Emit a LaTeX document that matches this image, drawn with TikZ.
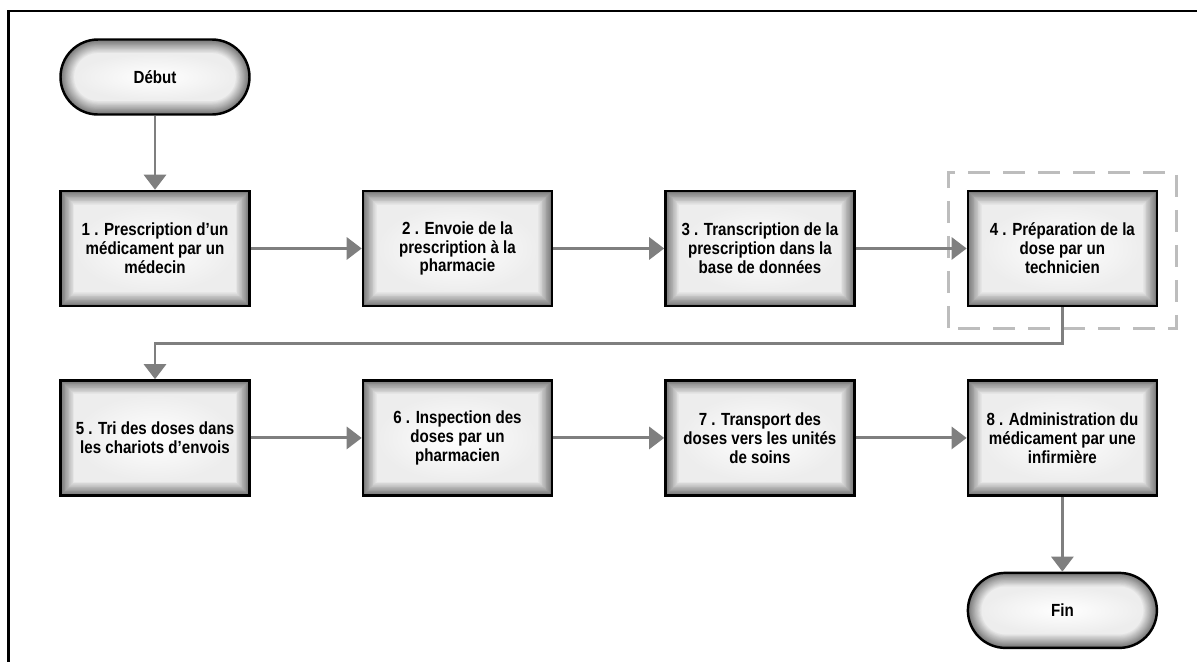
\documentclass[tikz,border=0pt]{standalone}
\usepackage{fontspec}
\setmainfont{Liberation Sans}
\newfontfamily\boxfont{Liberation Sans}[FakeStretch=0.86]
\usepackage{tikz}
\usetikzlibrary{positioning, arrows.meta, calc}
\definecolor{flowgray}{HTML}{7F7F7F}
\definecolor{dashgray}{HTML}{BDBDBD}
\tikzset{
  glow/.style={path picture={
    \foreach \k in {0,...,17}{
      \pgfmathsetmacro\tint{46+2.75*\k}
      \pgfmathsetmacro\rad{max(#1-0.016*\k,0)}
      \fill[white!\tint!black, rounded corners=\rad cm]
        ($(path picture bounding box.south west)+(0.016*\k,0.016*\k)$) rectangle
        ($(path picture bounding box.north east)-(0.016*\k,0.016*\k)$);
    }
    \pgfmathsetmacro\rad{max(#1-0.29,0)}
    \shade[inner color=white, outer color=white!93!black, rounded corners=\rad cm]
      ($(path picture bounding box.south west)+(0.29,0.29)$) rectangle
      ($(path picture bounding box.north east)-(0.29,0.29)$);
  }},
  process/.style={draw=black, line width=1.4pt, glow=0,
    minimum width=3.78cm, minimum height=2.3cm, align=center,
    font=\boxfont\bfseries\fontsize{10}{10.8}\selectfont},
  terminal/.style={draw=black, line width=1.4pt, glow=0.75,
    minimum width=3.78cm, minimum height=1.5cm, rounded corners=0.75cm,
    font=\boxfont\bfseries\fontsize{10}{10.8}\selectfont},
  flow/.style={draw=flowgray, line width=1.7pt, -{Triangle[width=0.44cm, length=0.3cm]}}
}

\begin{document}
\begin{tikzpicture}
  \useasboundingbox (0,0) rectangle (23.94,-13.24);
  % frame
  \draw[line width=1.2pt] (23.94,-0.22) -- (0.17,-0.22) -- (0.17,-13.24);

  \node[terminal] (start) at (3.10,-1.54) {Début};
  \node[process, below=1.48cm of start] (t1) {1 . Prescription d’un\\médicament par un\\médecin};
  \node[process, right=2.22cm of t1] (t2) {2 . Envoie de la\\prescription à la\\pharmacie};
  \node[process, right=2.22cm of t2] (t3) {3 . Transcription de la\\prescription dans la\\base de données};
  \node[process, right=2.22cm of t3] (t4) {4 . Préparation de la\\dose par un\\technicien};
  \node[process, below=1.44cm of t1] (t5) {5 . Tri des doses dans\\les chariots d’envois};
  \node[process, right=2.22cm of t5] (t6) {6 . Inspection des\\doses par un\\pharmacien};
  \node[process, right=2.22cm of t6] (t7) {7 . Transport des\\doses vers les unités\\de soins};
  \node[process, right=2.22cm of t7] (t8) {8 . Administration du\\médicament par une\\infirmière};
  \node[terminal, below=1.5cm of t8] (end) {Fin};

  % highlight round step 4
  \draw[dashgray, line width=1.7pt, dash pattern=on 0.44cm off 0.26cm]
    ($(t4.south west)+(-0.36,-0.42)$) rectangle ($(t4.north east)+(0.36,0.34)$);

  \draw[flow] (start) -- (t1);
  \draw[flow] (t1) -- (t2);
  \draw[flow] (t2) -- (t3);
  \draw[flow] (t3) -- (t4);
  \draw[flow] (t4.south) -- ++(0,-0.72) -| (t5.north);
  \draw[flow] (t5) -- (t6);
  \draw[flow] (t6) -- (t7);
  \draw[flow] (t7) -- (t8);
  \draw[flow] (t8) -- (end);
\end{tikzpicture}
\end{document}
